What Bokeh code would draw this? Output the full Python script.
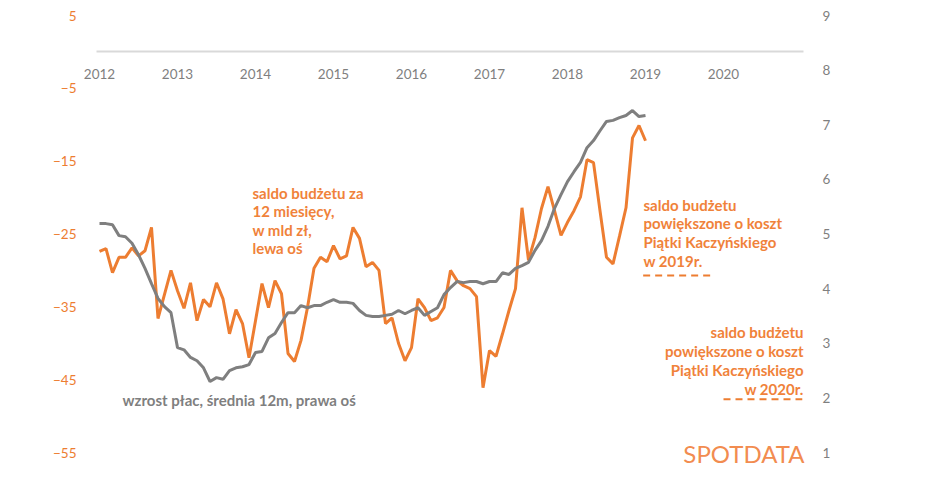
import pandas as pd

from bokeh.plotting import figure
from bokeh.models import Range1d, LinearAxis, FixedTicker, Label
from bokeh.embed import file_html
from bokeh.resources import INLINE

# monthly data, Jan 2012 - Jan 2019
months = pd.date_range("2012-01-01", periods=85, freq="MS")

# saldo budzetu za 12 miesiecy, mld zl (lewa os)
saldo = [-27.4, -27.0, -30.3, -28.2, -28.2, -26.9, -28.0, -27.3, -24.1, -36.6,
         -33.3, -30.0, -32.8, -35.2, -31.7, -36.9, -34.0, -35.0, -31.7, -33.9,
         -38.7, -35.4, -37.3, -42.0, -36.9, -31.8, -35.1, -31.4, -33.2, -41.4,
         -42.5, -39.6, -35.1, -29.7, -28.2, -28.8, -26.6, -28.4, -28.0, -24.1,
         -25.6, -29.5, -28.9, -30.0, -37.3, -36.5, -40.0, -42.4, -40.6, -33.9,
         -35.1, -36.9, -36.5, -35.1, -30.0, -31.4, -32.1, -32.5, -33.6, -46.1,
         -41.0, -41.8, -38.7, -35.5, -32.5, -21.4, -28.6, -25.5, -21.5, -18.5,
         -21.8, -25.2, -23.4, -21.8, -19.9, -14.8, -15.2, -21.8, -28.2, -29.1,
         -25.3, -21.4, -11.8, -10.1, -12.2]

# wzrost plac, srednia 12m, % (prawa os)
place = [5.19, 5.19, 5.17, 4.97, 4.95, 4.83, 4.62, 4.37, 4.09, 3.82,
         3.67, 3.56, 2.92, 2.88, 2.74, 2.68, 2.55, 2.30, 2.37, 2.34,
         2.50, 2.55, 2.57, 2.61, 2.83, 2.85, 3.10, 3.18, 3.38, 3.56,
         3.56, 3.69, 3.65, 3.69, 3.69, 3.75, 3.80, 3.75, 3.75, 3.73,
         3.60, 3.51, 3.49, 3.49, 3.51, 3.53, 3.60, 3.54, 3.60, 3.65,
         3.51, 3.58, 3.65, 3.89, 4.02, 4.13, 4.11, 4.13, 4.13, 4.09,
         4.13, 4.13, 4.29, 4.26, 4.37, 4.42, 4.48, 4.70, 4.88, 5.14,
         5.47, 5.72, 5.96, 6.14, 6.31, 6.58, 6.71, 6.89, 7.06, 7.08,
         7.13, 7.17, 7.26, 7.15, 7.17]

# saldo powiekszone o koszt Piatki Kaczynskiego
proj_2019 = -30.7
proj_2020 = -47.7
proj_2019_x = [2018.97, 2019.83]
proj_2020_x = [2020.0, 2021.01]

years = [2012, 2013, 2014, 2015, 2016, 2017, 2018, 2019, 2020]
left_ticks = [5, -5, -15, -25, -35, -45, -55]
right_ticks = [1, 2, 3, 4, 5, 6, 7, 8, 9]

ORANGE = "#ED7D31"
ORANGE_TXT = "#F0823A"
GREY = "#7F7F7F"
FONT = "Lato"

x = [d.year + (d.month - 1) / 12 for d in months]

# page px -> data (78 px per year, 437 px for 60 units on the left axis)
def xp(px):
    return 2012 + (px - 99) / 78.0


def yp(py):
    return 5 - (py - 15) * 60 / 437.0


def yr(py):
    return 9 - (py - 15) * 8 / 437.0


p = figure(frame_width=724, frame_height=451,
           min_border_left=82, min_border_right=120,
           min_border_top=15, min_border_bottom=4,
           x_range=Range1d(xp(82), xp(806)), y_range=Range1d(yp(466), 5),
           output_backend="svg", toolbar_location=None)
p.extra_y_ranges = {"right": Range1d(yr(466), 9)}
p.outline_line_color = None
p.grid.visible = False

# x axis sits at y = 0 of the left axis
p.xaxis.fixed_location = 0
p.xaxis.bounds = (xp(96), xp(803))
p.xaxis.ticker = FixedTicker(ticks=years)
p.xaxis.axis_line_color = "#D9D9D9"
p.xaxis.axis_line_width = 2
p.xaxis.major_tick_line_color = None
p.xaxis.minor_tick_line_color = None
p.xaxis.major_label_standoff = 11
p.xaxis.major_label_text_color = GREY
p.xaxis.major_label_text_font = FONT
p.xaxis.major_label_text_font_size = "13.5px"

p.yaxis.ticker = FixedTicker(ticks=left_ticks)
p.yaxis.axis_line_color = None
p.yaxis.major_tick_line_color = None
p.yaxis.minor_tick_line_color = None
p.yaxis.major_label_standoff = 0
p.yaxis.major_label_text_color = ORANGE
p.yaxis.major_label_text_font = FONT
p.yaxis.major_label_text_font_size = "13.5px"

ax_r = LinearAxis(y_range_name="right", ticker=FixedTicker(ticks=right_ticks))
ax_r.axis_line_color = None
ax_r.major_tick_line_color = None
ax_r.minor_tick_line_color = None
ax_r.major_label_standoff = 10
ax_r.major_label_text_color = GREY
ax_r.major_label_text_font = FONT
ax_r.major_label_text_font_size = "13.5px"
p.add_layout(ax_r, "right")

p.line(x, saldo, line_color=ORANGE, line_width=3)
p.line(x, place, line_color=GREY, line_width=3, y_range_name="right")

p.line(proj_2019_x, [proj_2019, proj_2019], line_color=ORANGE, line_width=2, line_dash="7 5")
p.line(proj_2020_x, [proj_2020, proj_2020], line_color=ORANGE, line_width=2, line_dash="7 5")


def add_lines(lines, px, py0, step, align, color):
    for k, t in enumerate(lines):
        p.add_layout(Label(x=xp(px), y=yp(py0 + k * step), text=t,
                           text_align=align, text_baseline="middle",
                           text_color=color, text_font=FONT,
                           text_font_style="bold", text_font_size="15px"))


add_lines(["saldo budżetu za", "12 miesięcy,", "w mld zł,", "lewa oś"],
          252, 192, 18.5, "left", ORANGE_TXT)
add_lines(["saldo budżetu", "powiększone o koszt", "Piątki Kaczyńskiego", "w 2019r."],
          643, 204, 18.7, "left", ORANGE_TXT)
add_lines(["saldo budżetu", "powiększone o koszt", "Piątki Kaczyńskiego", "w 2020r."],
          803, 331, 19, "right", ORANGE_TXT)
add_lines(["wzrost płac, średnia 12m, prawa oś"], 122, 399, 0, "left", GREY)

p.add_layout(Label(x=xp(804), y=yp(453), text="SPOTDATA", text_align="right",
                   text_baseline="middle", text_color="#F28C50", text_font=FONT,
                   text_font_size="24px"))

open("out.html", "w").write(file_html(p, INLINE))
